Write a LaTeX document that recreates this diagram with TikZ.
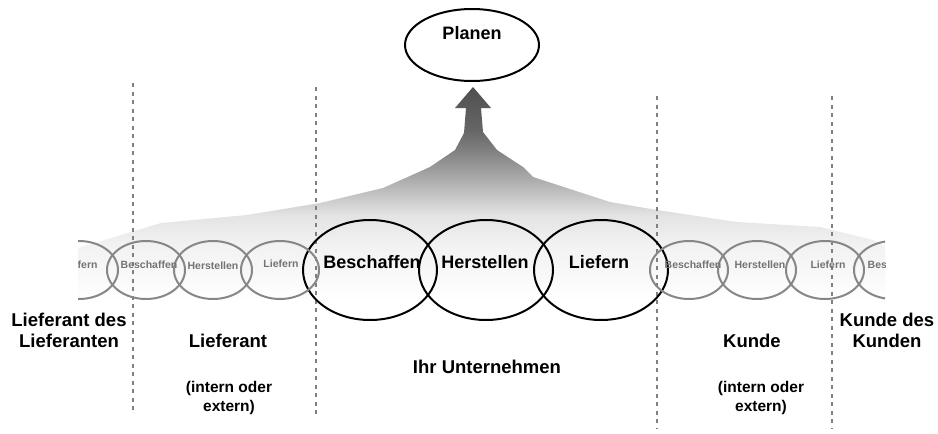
\documentclass[tikz,border=0pt]{standalone}
\usepackage{fontspec}
\setmainfont{Liberation Sans}
\usetikzlibrary{shapes.geometric}

% grey band rising into the arrow: dark at the tip, white at the bottom
\pgfdeclareverticalshading{bandshade}{100bp}{%
  rgb(0bp)=(1,1,1); rgb(25bp)=(1,1,1);
  rgb(32bp)=(0.97,0.97,0.97); rgb(37.9bp)=(0.95,0.95,0.95);
  rgb(45bp)=(0.89,0.89,0.89); rgb(50.8bp)=(0.74,0.74,0.74);
  rgb(56.2bp)=(0.60,0.60,0.60); rgb(60.2bp)=(0.50,0.50,0.50);
  rgb(64.9bp)=(0.40,0.40,0.40); rgb(75bp)=(0.31,0.31,0.31);
  rgb(100bp)=(0.31,0.31,0.31)}

\begin{document}
\begin{tikzpicture}[x=1pt,y=-1pt,
  bigoval/.style={ellipse, draw=black, line width=2pt, minimum width=134pt,
    minimum height=100pt, inner sep=0pt},
  planoval/.style={ellipse, draw=black, line width=2pt, minimum width=134pt,
    minimum height=72pt, inner sep=0pt},
  smalloval/.style={ellipse, draw=black!47, line width=2pt, minimum width=78pt,
    minimum height=58pt, inner sep=0pt},
  bigtxt/.style={font=\fontsize{18}{22}\selectfont\bfseries, inner sep=0pt},
  smalltxt/.style={font=\fontsize{10.5}{12}\selectfont\bfseries, text=black!55,
    inner sep=0pt},
  lbl/.style={font=\fontsize{18.5}{21}\selectfont\bfseries, align=center,
    inner sep=0pt, anchor=base},
  note/.style={font=\fontsize{15.5}{19}\selectfont\bfseries, align=center,
    inner sep=0pt, anchor=base},
  divider/.style={draw=black!50, line width=1.1pt, dash pattern=on 4pt off 4.5pt}]

\useasboundingbox (0,0) rectangle (938,434);

% shaded band with the arrow pointing up to "Planen"
\shade[shading=bandshade]
  (78,300) -- (78,248) -- (161,223) -- (247,215) -- (320,203) -- (383,188)
  -- (430,167) -- (455,150) -- (464,133) -- (466,108) -- (455,108)
  -- (473,87) -- (491,108) -- (481,108) -- (483,132) -- (497,150)
  -- (523,167) -- (533,177) -- (610,202) -- (657,210) -- (737,222)
  -- (820,227) -- (873,240) -- (885,246) -- (885,300) -- cycle;

% dashed dividers between the partners
\draw[divider] (133,83) -- (133,413);
\draw[divider] (316,87) -- (316,416);
\draw[divider] (657,96) -- (657,428);
\draw[divider] (832,96) -- (832,428);

% planning
\node[planoval] (plan) at (472,45) {};
\node[bigtxt] at (472,33) {Planen};

% own company
\node[bigoval] (ubesch) at (370,270) {};
\node[bigoval] (uherst) at (486,270) {};
\node[bigoval] (uliefer) at (601,270) {};
\node[bigtxt] at (372,262) {Beschaffen};
\node[bigtxt] at (485,262) {Herstellen};
\node[bigtxt] at (599,262) {Liefern};

% supplier and customer chains, cut off at the outer edges
\begin{scope}
  \clip (78,0) rectangle (885,434);
  \node[smalloval] (sslief) at (79,270) {};
  \node[smalloval] (sbesch) at (146,270) {};
  \node[smalloval] (sherst) at (213,270) {};
  \node[smalloval] (slief) at (280,270) {};
  \node[smalloval] (kbesch) at (689,270) {};
  \node[smalloval] (kherst) at (757,270) {};
  \node[smalloval] (klief) at (825,270) {};
  \node[smalloval] (kkbesch) at (893,270) {};
  \node[smalltxt] at (80,265) {Liefern};
  \node[smalltxt] at (149,265) {Beschaffen};
  \node[smalltxt] at (213,266) {Herstellen};
  \node[smalltxt] at (281,264) {Liefern};
  \node[smalltxt] at (693,265) {Beschaffen};
  \node[smalltxt] at (760,265) {Herstellen};
  \node[smalltxt] at (828,265) {Liefern};
  \node[smalltxt] at (896,265) {Beschaffen};
\end{scope}

% role labels
\node[lbl] at (69,347) {Lieferant des\\Lieferanten};
\node[lbl] at (228,347) {Lieferant};
\node[note] at (229,411) {(intern oder\\extern)};
\node[lbl] at (487,373) {Ihr Unternehmen};
\node[lbl] at (752,347) {Kunde};
\node[note] at (761,411) {(intern oder\\extern)};
\node[lbl] at (887,347) {Kunde des\\Kunden};
\end{tikzpicture}
\end{document}
